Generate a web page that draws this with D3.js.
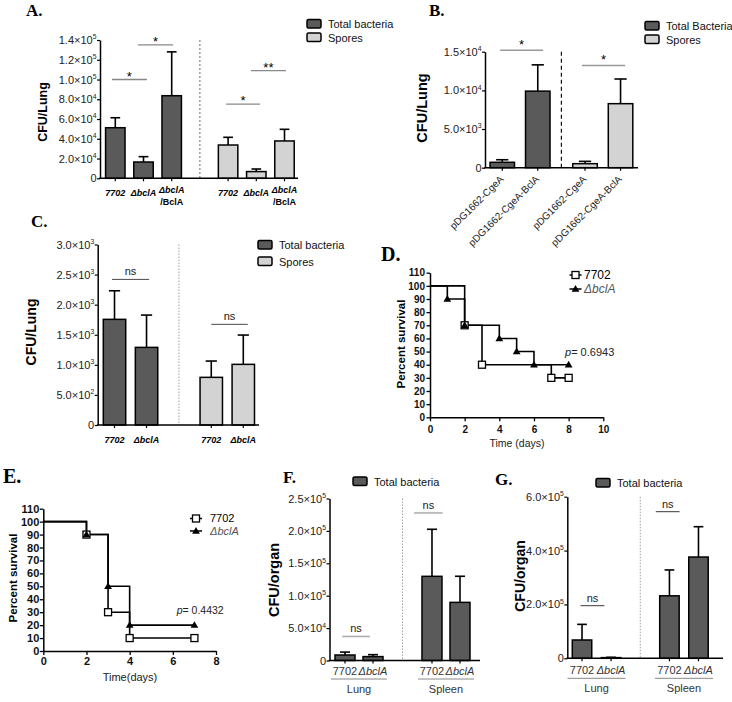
<!DOCTYPE html>
<html><head><meta charset="utf-8">
<script src="https://cdn.jsdelivr.net/npm/d3@7/dist/d3.min.js"></script>
<style>html,body{margin:0;padding:0;background:#fff;}svg{display:block;}</style>
</head><body>
<svg id="fig" width="732" height="702"></svg>
<script>
// ================= DATA =================
// Panel A
const aGroups = ["Total bacteria", "Spores"];
const aStrains = ["7702", "ΔbclA", "ΔbclA/BclA"];
const aTotalMean = [51200, 16500, 83600];
const aTotalSem  = [10100, 5400, 44400];
const aSporeMean = [33700, 6800, 37800];
const aSporeSem  = [7800, 2600, 11800];
const aTicks = [0, 20000, 40000, 60000, 80000, 100000, 120000, 140000];
const aSig = [
  {g: 0, from: -0.12, to: 1.12, v: 100000, label: "*"},
  {g: 0, from: 0.80, to: 2.05, v: 135000, label: "*"},
  {g: 1, from: -0.07, to: 1.13, v: 75000, label: "*"},
  {g: 1, from: 0.81, to: 2.05, v: 109000, label: "**"}
];
// Panel B
const bGroups = ["Total Bacteria", "Spores"];
const bStrains = ["pDG1662-CgeA", "pDG1662-CgeA-BclA"];
const bTotalMean = [700, 9900];
const bTotalSem  = [330, 3400];
const bSporeMean = [520, 8280];
const bSporeSem  = [300, 3190];
const bTicks = [0, 5000, 10000, 15000];
const bSig = [
  {g: 0, from: -0.06, to: 1.15, v: 15200, label: "*"},
  {g: 1, from: -0.09, to: 1.13, v: 13230, label: "*"}
];
// Panel C
const cGroups = ["Total bacteria", "Spores"];
const cStrains = ["7702", "ΔbclA"];
const cTotalMean = [1756, 1290];
const cTotalSem  = [475, 537];
const cSporeMean = [792, 1008];
const cSporeSem  = [271, 487];
const cTicks = [0, 500, 1000, 1500, 2000, 2500, 3000];
const cSig = [
  {g: 0, from: -0.08, to: 1.08, v: 2420, label: "ns"},
  {g: 1, from: 0.0, to: 1.14, v: 1673, label: "ns"}
];
// Panel D (survival)
const dDays7702 = [0, 2, 3, 7, 8];
const dSurv7702 = [100, 70, 40, 30, 30];
const dDaysBclA = [0, 1, 2, 4, 5, 6, 8];
const dSurvBclA = [100, 90, 70, 60, 50, 40, 40];
const dXTicks = [0, 2, 4, 6, 8, 10];
const dYTicks = [0, 10, 20, 30, 40, 50, 60, 70, 80, 90, 100, 110];
const dPValue = "0.6943";
// Panel E (survival)
const eDays7702 = [0, 2, 3, 4, 7];
const eSurv7702 = [100, 90, 30, 10, 10];
const eDaysBclA = [0, 2, 3, 4, 7];
const eSurvBclA = [100, 90, 50, 20, 20];
const eXTicks = [0, 2, 4, 6, 8];
const eYTicks = [0, 10, 20, 30, 40, 50, 60, 70, 80, 90, 100, 110];
const ePValue = "0.4432";
const survStrains = ["7702", "ΔbclA"];
// Panel F
const fOrgans = ["Lung", "Spleen"];
const fStrains = ["7702", "ΔbclA"];
const fLungMean = [8500, 6000];
const fLungSem  = [4500, 3000];
const fSpleenMean = [129900, 89700];
const fSpleenSem  = [72600, 40300];
const fTicks = [0, 50000, 100000, 150000, 200000, 250000];
const fSig = [
  {g: 0, from: -0.10, to: 0.89, v: 37100, label: "ns"},
  {g: 1, from: -0.64, to: 0.38, v: 227700, label: "ns"}
];
// Panel G
const gOrgans = ["Lung", "Spleen"];
const gStrains = ["7702", "ΔbclA"];
const gLungMean = [68000, 2500];
const gLungSem  = [58000, 1200];
const gSpleenMean = [232000, 376000];
const gSpleenSem  = [96000, 112600];
const gTicks = [0, 200000, 400000, 600000];
const gSig = [
  {g: 0, from: -0.05, to: 0.77, v: 195300, label: "ns"},
  {g: 1, from: -0.47, to: 0.35, v: 544300, label: "ns"}
];
const legendTotal = ["Total bacteria"];

// ================= DRAWING =================
const SANS = "'Liberation Sans', Arial, Helvetica, sans-serif";
const SERIF = "'Liberation Serif', 'Times New Roman', serif";
const DARK = "#5a5a5a", LIGHT = "#d3d3d3";
const svg = d3.select("#fig");

function txt(parent, x, y, s, o = {}) {
  const t = parent.append("text").attr("x", x).attr("y", y)
    .attr("font-family", o.family || SANS).attr("font-size", o.size || 11)
    .attr("fill", o.fill || "#000").text(s);
  if (o.weight) t.attr("font-weight", o.weight);
  if (o.style) t.attr("font-style", o.style);
  if (o.anchor) t.attr("text-anchor", o.anchor);
  if (o.transform) t.attr("transform", o.transform);
  return t;
}
function letter(t, x, y, size) {
  txt(svg, x, y, t, {family: SERIF, weight: "bold", size: size});
}
function sciLabel(sel, v, fs) {
  sel.text(null);
  if (v === 0) { sel.text("0"); return; }
  const e = Math.floor(Math.log10(v) + 1e-9);
  const m = v / Math.pow(10, e);
  sel.append("tspan").text(m.toFixed(1) + "×10");
  sel.append("tspan").attr("dy", -fs * 0.42).attr("font-size", fs * 0.62).text(e);
}
function italicDelta(parent, x, y, s, o) {
  const it = s.startsWith("Δ");
  return txt(parent, x, y, s, Object.assign({}, o, it ? {style: "italic"} : {}));
}

function barPanel(c) {
  const g = svg.append("g");
  const y = d3.scaleLinear().domain(c.yDomain).range([c.yBottom, c.yTop]);
  const outer = d3.scaleBand().domain(c.groups).range(c.xRange).paddingInner(c.outerPad).paddingOuter(0);
  const inner = d3.scaleBand().domain(c.cats.map((d, i) => i)).range([0, outer.bandwidth()])
    .paddingInner(c.innerPad).paddingOuter(c.innerPad / 2);
  const slot = (gi, p) => outer(c.groups[gi]) + inner.step() * (p + 0.5);
  const center = (gi, i) => outer(c.groups[gi]) + inner(i) + inner.bandwidth() / 2;

  const sx = (outer(c.groups[0]) + outer.bandwidth() + outer(c.groups[1])) / 2;
  g.append("line").attr("x1", sx).attr("x2", sx).attr("y1", c.yTop).attr("y2", c.yBottom)
    .attr("stroke", c.sep.color).attr("stroke-width", c.sep.width).attr("stroke-dasharray", c.sep.dash);

  const bw = inner.bandwidth();
  c.series.forEach((s, gi) => {
    const rows = s.mean.map((m, i) => ({m, e: s.sem[i], i}));
    const sg = g.append("g");
    sg.selectAll("line.err").data(rows).join("line").attr("class", "err")
      .attr("x1", d => center(gi, d.i)).attr("x2", d => center(gi, d.i))
      .attr("y1", d => y(d.m)).attr("y2", d => y(d.m + d.e))
      .attr("stroke", "#000").attr("stroke-width", 1.6);
    sg.selectAll("line.cap").data(rows).join("line").attr("class", "cap")
      .attr("x1", d => center(gi, d.i) - bw * 0.25).attr("x2", d => center(gi, d.i) + bw * 0.25)
      .attr("y1", d => y(d.m + d.e)).attr("y2", d => y(d.m + d.e))
      .attr("stroke", "#000").attr("stroke-width", 1.6);
    sg.selectAll("rect").data(rows).join("rect")
      .attr("x", d => outer(c.groups[gi]) + inner(d.i)).attr("y", d => y(d.m))
      .attr("width", bw).attr("height", d => y(0) - y(d.m))
      .attr("fill", s.fill).attr("stroke", "#000").attr("stroke-width", 1.5);
    sg.selectAll("line.xt").data(rows).join("line").attr("class", "xt")
      .attr("x1", d => center(gi, d.i)).attr("x2", d => center(gi, d.i))
      .attr("y1", y(0)).attr("y2", y(0) + 3).attr("stroke", "#000").attr("stroke-width", 1.2);
  });

  const ax = g.append("g").attr("transform", `translate(${c.axisX},0)`)
    .call(d3.axisLeft(y).tickValues(c.ticks).tickSize(3).tickSizeOuter(0).tickPadding(c.tickPad || 0.5));
  ax.attr("font-family", SANS);
  ax.select(".domain").attr("stroke-width", 1.5);
  ax.selectAll(".tick line").attr("stroke-width", 1.2);
  ax.selectAll(".tick text").attr("font-size", c.tickFs).attr("fill", "#222")
    .each(function (v) { sciLabel(d3.select(this), v, c.tickFs); });
  g.append("line").attr("x1", c.axisX - 0.75).attr("x2", c.axisEnd).attr("y1", y(0)).attr("y2", y(0))
    .attr("stroke", "#000").attr("stroke-width", 1.5);

  c.sig.forEach(s => {
    const x1 = slot(s.g, s.from), x2 = slot(s.g, s.to), ly = y(s.v);
    g.append("line").attr("x1", x1).attr("x2", x2).attr("y1", ly).attr("y2", ly)
      .attr("stroke", c.sigStyle.color).attr("stroke-width", c.sigStyle.width);
    const star = s.label.includes("*");
    txt(g, (x1 + x2) / 2, star ? ly + c.sigStyle.starDy : ly - 4, s.label,
      {size: star ? 13 : 11, anchor: "middle", fill: star ? "#000" : "#222"});
  });

  txt(g, 0, 0, c.ylabel.text, {size: c.ylabel.size, weight: "bold", anchor: "middle",
    transform: `translate(${c.ylabel.x},${c.ylabel.y}) rotate(-90)`});

  c.legend.items.forEach((name, i) => {
    const ly = c.legend.y + i * c.legend.dy;
    g.append("rect").attr("x", c.legend.x).attr("y", ly).attr("width", 14).attr("height", 8.5)
      .attr("rx", 1.5).attr("fill", c.series[i].fill).attr("stroke", "#000").attr("stroke-width", 1.5);
    txt(g, c.legend.x + 21, ly + 8.5, name, {size: c.legend.fs, fill: "#111"});
  });

  c.xlabels(g, center, outer, y(0));
  letter(c.letter, c.letterX, c.letterY, c.letterSize);
}

// ---------- Panel A ----------
barPanel({
  letter: "A.", letterX: 26, letterY: 16, letterSize: 17,
  groups: aGroups, cats: aStrains,
  series: [{mean: aTotalMean, sem: aTotalSem, fill: DARK}, {mean: aSporeMean, sem: aSporeSem, fill: LIGHT}],
  ticks: aTicks, yDomain: [0, 140000], yBottom: 178.3, yTop: 40, axisX: 100, axisEnd: 298,
  xRange: [101.2, 298.6], outerPad: 0.25, innerPad: 0.31, tickFs: 11,
  sep: {color: "#444", width: 0.8, dash: "2,2"},
  sig: aSig, sigStyle: {color: "#888", width: 1.3, starDy: 1},
  ylabel: {text: "CFU/Lung", x: 46.5, y: 112, size: 12.5},
  legend: {items: aGroups, x: 307, y: 19.5, dy: 13.5, fs: 11},
  xlabels: (g, center) => {
    aGroups.forEach((gr, gi) => aStrains.forEach((s, i) => {
      const cx = center(gi, i);
      const o = {size: 9, weight: "bold", anchor: "middle"};
      if (s.includes("/")) {
        const parts = s.split("/");
        italicDelta(g, cx, 193, parts[0], o);
        txt(g, cx, 205, "/" + parts[1], o);
      } else {
        txt(g, cx, 196, s, Object.assign({style: "italic"}, o));
      }
    }));
  }
});

// ---------- Panel B ----------
barPanel({
  letter: "B.", letterX: 429, letterY: 15.5, letterSize: 17,
  groups: bGroups, cats: bStrains,
  series: [{mean: bTotalMean, sem: bTotalSem, fill: DARK}, {mean: bSporeMean, sem: bSporeSem, fill: LIGHT}],
  ticks: bTicks, yDomain: [0, 15000], yBottom: 167.7, yTop: 51.7, axisX: 485, axisEnd: 638,
  xRange: [484.5, 638.3], outerPad: 0.142, innerPad: 0.31, tickFs: 11,
  sep: {color: "#111", width: 1.2, dash: "4,3"},
  sig: bSig, sigStyle: {color: "#999", width: 1.5, starDy: -1},
  ylabel: {text: "CFU/Lung", x: 426.5, y: 108, size: 14.5},
  legend: {items: bGroups, x: 645, y: 21.5, dy: 13.5, fs: 11},
  xlabels: (g, center, outer, y0) => {
    bGroups.forEach((gr, gi) => bStrains.forEach((s, i) => {
      const cx = center(gi, i);
      txt(g, 0, 0, s, {size: 10, anchor: "end", fill: "#222",
        transform: `translate(${cx + 2},${y0 + 12}) rotate(-45)`});
    }));
  }
});

// ---------- Panel C ----------
barPanel({
  letter: "C.", letterX: 31, letterY: 227, letterSize: 17,
  groups: cGroups, cats: cStrains,
  series: [{mean: cTotalMean, sem: cTotalSem, fill: DARK}, {mean: cSporeMean, sem: cSporeSem, fill: LIGHT}],
  ticks: cTicks, yDomain: [0, 3000], yBottom: 425, yTop: 244.5, axisX: 97.7, axisEnd: 259,
  xRange: [98.5, 259.3], outerPad: 0.338, innerPad: 0.30, tickFs: 11,
  sep: {color: "#999", width: 0.9, dash: "1.5,1.5"},
  sig: cSig, sigStyle: {color: "#333", width: 0.9, starDy: 1},
  ylabel: {text: "CFU/Lung", x: 36, y: 332, size: 14},
  legend: {items: cGroups, x: 258, y: 240.5, dy: 16.5, fs: 11},
  xlabels: (g, center) => {
    cGroups.forEach((gr, gi) => cStrains.forEach((s, i) => {
      txt(g, center(gi, i), 443, s, {size: 9, weight: "bold", style: "italic", anchor: "middle"});
    }));
  }
});

// ---------- Panels F & G ----------
function organLabels(organs, strains, base, lineY, grpY) {
  return (g, center, outer) => {
    organs.forEach((org, gi) => {
      strains.forEach((s, i) => italicDelta(g, center(gi, i), base, s, {size: 11, anchor: "middle", fill: "#333"}));
      g.append("line").attr("x1", outer(org)).attr("x2", outer(org) + outer.bandwidth())
        .attr("y1", lineY).attr("y2", lineY).attr("stroke", "#888").attr("stroke-width", 1);
      txt(g, outer(org) + outer.bandwidth() / 2, grpY, org, {size: 11, anchor: "middle", fill: "#333"});
    });
  };
}
barPanel({
  letter: "F.", letterX: 283, letterY: 483, letterSize: 17,
  groups: fOrgans, cats: fStrains,
  series: [{mean: fLungMean, sem: fLungSem, fill: DARK}, {mean: fSpleenMean, sem: fSpleenSem, fill: DARK}],
  ticks: fTicks, yDomain: [0, 250000], yBottom: 660.5, yTop: 498.5, axisX: 329.5, axisEnd: 480,
  xRange: [331, 474], outerPad: 0.356, innerPad: 0.286, tickFs: 11,
  sep: {color: "#999", width: 0.9, dash: "1.5,1.5"},
  sig: fSig, sigStyle: {color: "#aaa", width: 1.5, starDy: 1},
  ylabel: {text: "CFU/organ", x: 279, y: 580, size: 14.5},
  legend: {items: legendTotal, x: 353, y: 477, dy: 14, fs: 11},
  xlabels: organLabels(fOrgans, fStrains, 675, 679, 693)
});
barPanel({
  letter: "G.", letterX: 495, letterY: 485, letterSize: 17,
  groups: gOrgans, cats: gStrains,
  series: [{mean: gLungMean, sem: gLungSem, fill: DARK}, {mean: gSpleenMean, sem: gSpleenSem, fill: DARK}],
  ticks: gTicks, yDomain: [0, 600000], yBottom: 658.3, yTop: 496.7, axisX: 567.3, axisEnd: 723,
  xRange: [567.5, 713], outerPad: 0.3356, innerPad: 0.33, tickFs: 11,
  sep: {color: "#999", width: 0.9, dash: "1.5,1.5"},
  sig: gSig, sigStyle: {color: "#222", width: 0.9, starDy: 1},
  ylabel: {text: "CFU/organ", x: 525, y: 576, size: 14},
  legend: {items: legendTotal, x: 596, y: 478.5, dy: 14, fs: 11},
  xlabels: organLabels(gOrgans, gStrains, 674, 678.3, 692)
});

// ---------- Survival panels ----------
function marker(g, type, cx, cy) {
  if (type === "square") {
    g.append("rect").attr("x", cx - 3.5).attr("y", cy - 3.5).attr("width", 7).attr("height", 7)
      .attr("fill", "#fff").attr("stroke", "#000").attr("stroke-width", 1.3);
  } else {
    g.append("path").attr("d", d3.symbol().type(d3.symbolTriangle).size(26)())
      .attr("transform", `translate(${cx},${cy + 0.5})`).attr("fill", "#000");
  }
}
function survPanel(c) {
  const g = svg.append("g");
  const x = d3.scaleLinear().domain(c.xDomain).range([c.x0, c.x1]);
  const y = d3.scaleLinear().domain([0, 110]).range([c.y0, c.y1]);
  const ax = g.append("g").attr("transform", `translate(${c.x0},0)`)
    .call(d3.axisLeft(y).tickValues(c.yTicks).tickSize(3.5).tickSizeOuter(0).tickPadding(c.yPad));
  const bx = g.append("g").attr("transform", `translate(0,${c.y0})`)
    .call(d3.axisBottom(x).tickValues(c.xTicks).tickSize(4).tickSizeOuter(0).tickPadding(c.xPad));
  [ax, bx].forEach(a => {
    a.attr("font-family", SANS);
    a.select(".domain").attr("stroke-width", 1.5);
    a.selectAll(".tick line").attr("stroke-width", 1.3);
    a.selectAll(".tick text").attr("font-size", c.tickFs).attr("font-weight", "bold").attr("fill", "#111");
  });
  const line = d3.line().x(d => x(d[0])).y(d => y(d[1])).curve(d3.curveStepAfter);
  c.curves.forEach(cv => {
    g.append("path").attr("d", line(d3.zip(cv.t, cv.s))).attr("fill", "none")
      .attr("stroke", "#000").attr("stroke-width", 1.6);
  });
  c.curves.forEach(cv => {
    cv.t.forEach((t, i) => { if (i > 0) marker(g, cv.marker, x(t), y(cv.s[i])); });
  });
  c.curves.forEach((cv, i) => {
    const ly = c.legend.y + i * c.legend.dy;
    g.append("line").attr("x1", c.legend.x - 6).attr("x2", c.legend.x + 6).attr("y1", ly).attr("y2", ly)
      .attr("stroke", "#000").attr("stroke-width", 1.5);
    marker(g, cv.marker, c.legend.x, ly);
    italicDelta(g, c.legend.textX, ly + c.legend.fs * 0.36, survStrains[i],
      {size: c.legend.fs, fill: i === 0 ? "#000" : "#555"});
  });
  const pt = g.append("text").attr("x", c.p.x).attr("y", c.p.y).attr("font-family", SANS)
    .attr("font-size", c.p.fs).attr("fill", "#222");
  pt.append("tspan").attr("font-style", "italic").text("p");
  pt.append("tspan").text("= " + c.p.value);
  txt(g, c.xlabel.x, c.xlabel.y, c.xlabel.text, {size: c.xlabel.size, anchor: "middle", fill: "#222"});
  txt(g, 0, 0, c.ylabel.text, {size: c.ylabel.size, weight: "bold", anchor: "middle",
    transform: `translate(${c.ylabel.x},${c.ylabel.y}) rotate(-90)`});
  letter(c.letter, c.letterX, c.letterY, c.letterSize);
}
survPanel({
  letter: "D.", letterX: 381, letterY: 261, letterSize: 20,
  xDomain: [0, 10], xTicks: dXTicks, x0: 430, x1: 603.3,
  yTicks: dYTicks, y0: 417.3, y1: 272.7, tickFs: 10, yPad: 1.5, xPad: 4.5,
  curves: [{t: dDays7702, s: dSurv7702, marker: "square"}, {t: dDaysBclA, s: dSurvBclA, marker: "triangle"}],
  legend: {x: 575.5, y: 275, dy: 14, textX: 584, fs: 12},
  p: {x: 565, y: 356, fs: 11, value: dPValue},
  xlabel: {text: "Time (days)", x: 517, y: 446.5, size: 10.5},
  ylabel: {text: "Percent survival", x: 405, y: 344, size: 11.5}
});
survPanel({
  letter: "E.", letterX: 3, letterY: 483, letterSize: 20,
  xDomain: [0, 8], xTicks: eXTicks, x0: 43.3, x1: 216,
  yTicks: eYTicks, y0: 651, y1: 508.7, tickFs: 11, yPad: 0.5, xPad: 2.5,
  curves: [{t: eDays7702, s: eSurv7702, marker: "square"}, {t: eDaysBclA, s: eSurvBclA, marker: "triangle"}],
  legend: {x: 196, y: 518.5, dy: 12.5, textX: 210, fs: 11},
  p: {x: 176.7, y: 614, fs: 10.5, value: ePValue},
  xlabel: {text: "Time(days)", x: 130, y: 680.5, size: 11},
  ylabel: {text: "Percent survival", x: 16.7, y: 578, size: 11.5}
});
</script>
</body></html>
